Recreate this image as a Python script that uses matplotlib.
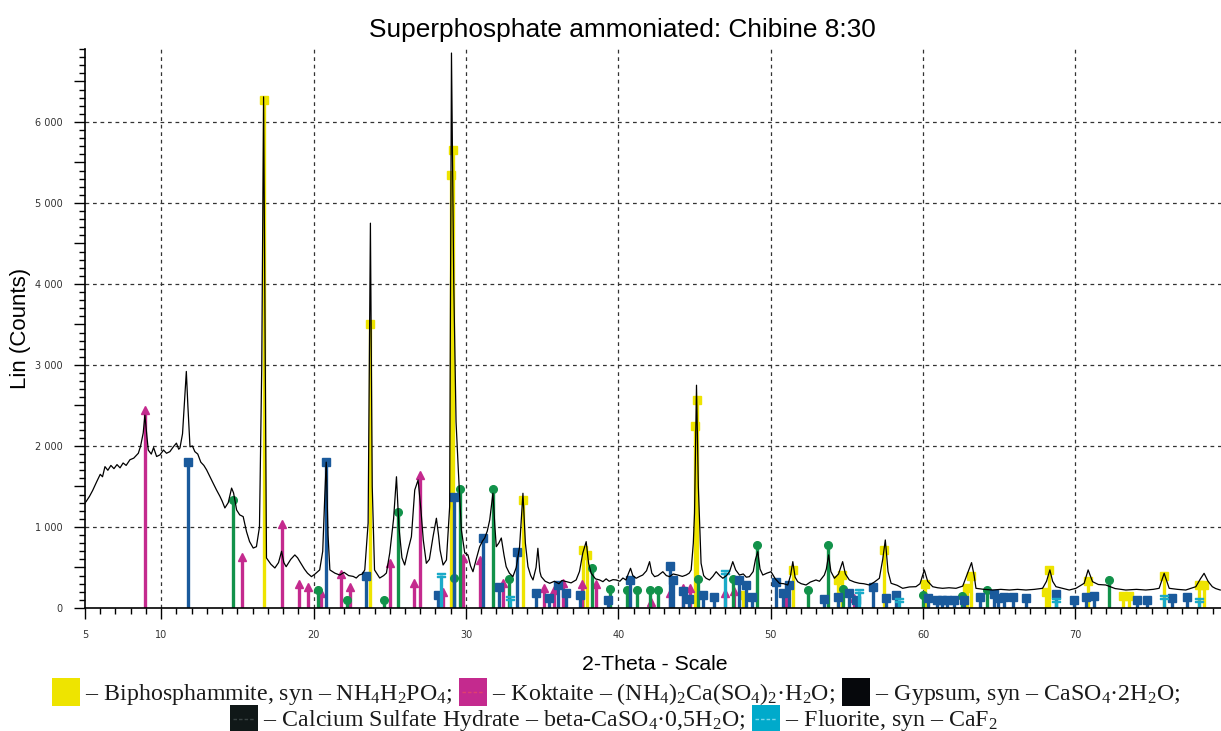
import matplotlib
matplotlib.use('Agg')
import matplotlib.pyplot as plt
from matplotlib.patches import Rectangle
from matplotlib.lines import Line2D
from matplotlib.ticker import FixedLocator, MultipleLocator, FuncFormatter
import numpy as np

plt.rcParams['mathtext.fontset'] = 'custom'
plt.rcParams['mathtext.rm'] = 'Liberation Serif'
plt.rcParams['mathtext.it'] = 'Liberation Serif:italic'
plt.rcParams['mathtext.default'] = 'rm'

# measured diffractogram (2-theta, counts)
two_theta = [5.0, 5.07, 5.3, 5.5, 5.77, 6.0, 6.15, 6.31, 6.5, 6.7, 6.9, 7.1, 7.3, 7.5, 7.7, 7.95,
             8.2, 8.5, 8.65, 8.82, 8.93, 9.05, 9.15, 9.35, 9.5, 9.7, 9.92, 10.15, 10.35, 10.57,
             10.8, 11.0, 11.15, 11.23, 11.4, 11.55, 11.65, 11.75, 11.89, 12.05, 12.21, 12.4, 12.6,
             12.8, 12.98, 13.2, 13.41, 13.63, 13.85, 14.0, 14.18, 14.4, 14.62, 14.75, 14.95, 15.15,
             15.38, 15.6, 15.8, 16.04, 16.25, 16.45, 16.6, 16.72, 16.8, 16.91, 17.2, 17.46, 17.7,
             17.9, 18.05, 18.2, 18.5, 18.77, 18.95, 19.1, 19.4, 19.6, 19.86, 20.1, 20.4, 20.6,
             20.74, 20.83, 20.95, 21.07, 21.4, 21.72, 22.0, 22.3, 22.6, 22.8, 23.0, 23.2, 23.36,
             23.58, 23.73, 23.85, 24.0, 24.34, 24.6, 24.78, 25.0, 25.25, 25.44, 25.6, 25.8, 25.98,
             26.2, 26.42, 26.64, 26.86, 27.05, 27.2, 27.4, 27.6, 27.84, 28.06, 28.2, 28.3, 28.5,
             28.72, 28.93, 29.05, 29.2, 29.35, 29.5, 29.7, 29.92, 30.13, 30.3, 30.46, 30.7, 30.9,
             31.1, 31.23, 31.4, 31.56, 31.77, 31.9, 31.99, 32.15, 32.32, 32.5, 32.64, 32.85, 33.08,
             33.3, 33.52, 33.74, 33.9, 34.07, 34.25, 34.4, 34.6, 34.72, 34.85, 34.94, 35.2, 35.5,
             35.8, 36.1, 36.3, 36.6, 36.9, 37.23, 37.45, 37.67, 37.89, 38.05, 38.22, 38.5, 38.77,
             38.99, 39.2, 39.4, 39.65, 39.86, 40.1, 40.3, 40.5, 40.65, 40.8, 40.95, 41.17, 41.4,
             41.6, 41.85, 42.05, 42.2, 42.38, 42.6, 42.92, 43.15, 43.36, 43.6, 43.9, 44.2, 44.45,
             44.65, 44.78, 44.92, 45.0, 45.13, 45.25, 45.43, 45.6, 45.76, 45.98, 46.2, 46.42, 46.65,
             46.86, 47.1, 47.3, 47.51, 47.7, 47.95, 48.2, 48.4, 48.6, 48.85, 49.0, 49.15, 49.3,
             49.48, 49.75, 50.02, 50.3, 50.57, 50.85, 51.12, 51.3, 51.45, 51.6, 51.77, 52.0, 52.32,
             52.6, 52.97, 53.2, 53.52, 53.65, 53.8, 53.95, 54.18, 54.45, 54.72, 54.9, 55.16, 55.5,
             55.82, 56.1, 56.48, 56.8, 57.13, 57.35, 57.52, 57.7, 57.9, 58.3, 58.66, 59.1, 59.53,
             59.8, 60.08, 60.3, 60.63, 60.95, 61.28, 61.7, 62.16, 62.6, 62.92, 63.18, 63.35, 63.47,
             64.0, 64.56, 65.1, 65.66, 66.2, 66.75, 67.3, 67.84, 68.1, 68.32, 68.5, 68.72, 69.2,
             69.59, 70.03, 70.57, 70.83, 71.12, 71.5, 71.99, 72.6, 73.3, 74.0, 74.61, 75.1, 75.49,
             75.82, 76.15, 76.7, 77.24, 77.9, 78.2, 78.44, 78.7, 78.98, 79.2, 79.5]
counts = [1300, 1313, 1380, 1450, 1560, 1650, 1620, 1745, 1700, 1760, 1720, 1770, 1730, 1790, 1760, 1830,
          1850, 1910, 2000, 2160, 2380, 2150, 1950, 1900, 1980, 1870, 1890, 1950, 1910, 1930,
          1990, 2035, 1960, 1975, 2150, 2600, 2920, 2500, 1990, 2000, 1930, 1900, 1800,
          1760, 1705, 1620, 1540, 1457, 1380, 1320, 1235, 1300, 1480, 1420, 1210, 1150,
          1128, 942, 820, 740, 757, 1000, 3000, 6310, 4000, 617, 540, 494, 560,
          700, 560, 510, 600, 655, 620, 572, 480, 430, 387, 420, 470, 700,
          1400, 1800, 900, 470, 430, 407, 440, 400, 390, 370, 407, 420, 470,
          1050, 4750, 1500, 470, 370, 400, 432, 680, 1100, 1620, 1000, 620, 531,
          716, 880, 1457, 1580, 1200, 840, 552, 600, 880, 1108, 900, 716, 531,
          593, 1250, 6850, 4000, 2300, 1700, 963, 680, 655, 520, 448, 620, 757,
          830, 864, 950, 1087, 1416, 1000, 757, 800, 864, 650, 510, 430, 387,
          500, 757, 1416, 800, 510, 400, 346, 500, 737, 450, 387, 330, 305,
          330, 300, 340, 325, 310, 346, 450, 680, 819, 550, 428, 360, 346,
          325, 360, 330, 350, 346, 330, 370, 346, 420, 490, 400, 367, 390,
          407, 460, 572, 430, 387, 400, 448, 400, 387, 420, 407, 390, 407,
          430, 470, 800, 1170, 2750, 1500, 552, 400, 367, 346, 390, 448, 400,
          367, 400, 450, 572, 470, 407, 420, 380, 387, 450, 600, 695, 480,
          407, 430, 448, 360, 305, 300, 284, 400, 572, 380, 325, 300, 284,
          320, 346, 330, 407, 480, 655, 450, 367, 420, 572, 420, 346, 320,
          305, 300, 284, 320, 367, 600, 840, 450, 305, 280, 243, 260, 263,
          300, 470, 330, 263, 250, 243, 250, 243, 270, 428, 560, 400, 243,
          230, 222, 230, 222, 230, 222, 230, 243, 330, 470, 330, 263, 240,
          222, 243, 305, 470, 325, 290, 284, 240, 222, 230, 222, 230, 243,
          428, 243, 230, 222, 263, 360, 428, 330, 263, 240, 222]

# reference patterns (stick positions, heights)
biph_pos = [16.72, 23.72, 29.03, 29.15, 33.72, 37.67, 37.92, 45.05, 45.15, 48.16, 51.45, 54.4, 54.66,
            57.46, 60.15, 62.9, 63.14, 68.06, 68.28, 70.79, 73.1, 73.5, 75.82, 78.11, 78.44]
biph_h = [6270, 3500, 5350, 5650, 1330, 710, 650, 2250, 2570, 160, 470, 350, 410,
          720, 300, 250, 400, 200, 470, 330, 150, 150, 400, 280, 280]

kokt_pos = [8.95, 15.33, 17.96, 19.04, 19.64, 20.48, 21.83, 22.4, 25.0, 26.59, 27.0, 28.5, 29.8,
            30.92, 32.43, 35.12, 35.78, 36.34, 37.6, 38.55, 42.16, 43.36, 44.23, 44.71, 46.97,
            47.62, 51.0, 55.49]
kokt_h = [2450, 630, 1040, 300, 255, 185, 425, 255, 550, 305, 1640, 200, 620,
          595, 305, 243, 222, 305, 295, 300, 80, 181, 243, 243, 181,
          204, 173, 120]

gyps_pos = [11.73, 20.8, 23.47, 28.17, 29.2, 31.14, 32.17, 33.38, 34.59, 35.45, 36.06, 36.58, 37.46,
            39.32, 40.78, 43.36, 43.62, 44.23, 44.62, 45.54, 46.28, 47.9, 48.38, 48.77, 50.35,
            50.79, 51.23, 53.52, 54.4, 55.16, 55.6, 56.69, 57.56, 58.22, 60.3, 60.9, 61.25, 61.6,
            62.05, 62.7, 63.73, 64.67, 64.89, 65.33, 65.87, 66.75, 68.72, 69.92, 70.68, 71.23,
            74.07, 74.72, 76.36, 77.34]
gyps_h = [1800, 1800, 390, 160, 1375, 860, 263, 695, 185, 120, 280, 181, 160,
          100, 346, 519, 346, 204, 111, 160, 140, 346, 284, 140, 325,
          181, 284, 107, 140, 181, 100, 255, 120, 160, 120, 100, 100, 100,
          100, 100, 140, 173, 120, 140, 132, 120, 173, 100, 140, 148,
          100, 100, 120, 140]

csh_pos = [14.72, 20.3, 22.22, 24.6, 25.54, 29.22, 29.59, 31.77, 32.85, 38.24, 39.47, 40.56, 41.22,
           42.05, 42.59, 45.2, 47.51, 49.08, 52.43, 53.79, 54.73, 59.97, 62.55, 64.19, 72.17]
csh_h = [1330, 222, 100, 100, 1190, 367, 1466, 1466, 356, 495, 230, 222, 222,
         222, 222, 358, 358, 778, 222, 778, 230, 160, 148, 222, 346]

fluor_pos = [28.38, 32.87, 46.97, 55.82, 58.44, 68.72, 75.82, 78.11]
fluor_h = [407, 120, 448, 214, 100, 100, 140, 100]

W, H = 1221, 731
fig = plt.figure(figsize=(W / 100, H / 100), dpi=100)
ax = fig.add_axes([85 / W, 1 - 608 / H, (W - 85) / W, (608 - 49) / H])

phases = [
    (biph_pos, biph_h, '#EEE400', 's'),
    (kokt_pos, kokt_h, '#C42A8E', '^'),
    (csh_pos, csh_h, '#12924A', 'o'),
    (gyps_pos, gyps_h, '#1A5A9C', 's'),
    (fluor_pos, fluor_h, '#1AAAC8', '$=$'),
]
for pos, h, col, mk in phases:
    ax.vlines(pos, 0, h, colors=col, linewidth=2.4, zorder=2)
    ax.plot(pos, h, linestyle='none', marker=mk, color=col, markersize=5.5, zorder=2)

ax.plot(two_theta, counts, color='black', linewidth=0.9, zorder=3)

ax.set_xlim(5, 79.55)
ax.set_ylim(0, 6900)

for s in ['top', 'right']:
    ax.spines[s].set_visible(False)
ax.spines['left'].set_linewidth(1.2)
ax.spines['bottom'].set_linewidth(1.2)

ax.xaxis.set_major_locator(FixedLocator([5, 10, 20, 30, 40, 50, 60, 70]))
ax.xaxis.set_minor_locator(MultipleLocator(1))
ax.yaxis.set_major_locator(MultipleLocator(500))
ax.yaxis.set_minor_locator(MultipleLocator(100))
ax.yaxis.set_major_formatter(FuncFormatter(
    lambda v, p: ('%d' % v if v < 1000 else '%d %03d' % (v // 1000, v % 1000)) if v % 1000 == 0 else ''))
ax.tick_params(axis='both', which='major', length=8, width=1, labelsize=7, labelcolor='#333333',
               direction='out')
ax.tick_params(axis='both', which='minor', length=4, width=1, direction='out')
ax.tick_params(axis='x', which='major', pad=8)
ax.tick_params(axis='y', which='major', pad=8)

for v in range(1000, 7000, 1000):
    ax.axhline(v, color='#333333', linewidth=0.9, linestyle=(0, (3, 3)), zorder=0)
for v in range(10, 80, 10):
    ax.axvline(v, color='#333333', linewidth=0.9, linestyle=(0, (3, 3)), zorder=0)

fig.text(622 / W, 1 - 30 / H, 'Superphosphate ammoniated: Chibine 8:30', ha='center', va='center',
         fontsize=18.9, family='Liberation Sans')
fig.text(21 / W, 1 - 328 / H, 'Lin (Counts)', rotation=90, ha='center', va='center',
         fontsize=16, family='Liberation Sans')
fig.text(655 / W, 1 - 665 / H, '2-Theta - Scale', ha='center', va='center',
         fontsize=15.3, family='Liberation Sans')

# legend built by hand: two rows of patches and serif text
row1 = [('#EEE400', None), ' – Biphosphammite, syn – NH$_4$H$_2$PO$_4$;',
        ('#C42A8E', '#E0406E'), ' – Koktaite – (NH$_4$)$_2$Ca(SO$_4$)$_2$·H$_2$O;',
        ('#06080C', None), ' – Gypsum, syn – CaSO$_4$·2H$_2$O;']
row2 = [('#101818', '#3A4444'), ' – Calcium Sulfate Hydrate – beta-CaSO$_4$·0,5H$_2$O;',
        ('#00AACB', '#7FD8EA'), ' – Fluorite, syn – CaF$_2$']

renderer = fig.canvas.get_renderer()
patch_w, patch_h = 28, 28


def draw_row(items, x0, base_y, top_y):
    x = x0
    for it in items:
        if isinstance(it, tuple):
            col, dash = it
            fig.add_artist(Rectangle((x / W, 1 - (top_y + patch_h) / H), patch_w / W, patch_h / H,
                                     transform=fig.transFigure, facecolor=col, edgecolor='none'))
            if dash:
                yc = 1 - (top_y + patch_h / 2) / H
                fig.add_artist(Line2D([(x + 3) / W, (x + patch_w - 3) / W], [yc, yc],
                                      transform=fig.transFigure, color=dash, linewidth=1,
                                      linestyle=(0, (2.5, 1.5))))
            x += patch_w
        else:
            t = fig.text(x / W, 1 - base_y / H, it, ha='left', va='baseline', fontsize=17.2,
                         family='Liberation Serif', color='#1a1a1a')
            x += t.get_window_extent(renderer).width + 7


draw_row(row1, 52, 700, 678)
draw_row(row2, 230, 726, 705)

fig.savefig('out.png', dpi=100)
